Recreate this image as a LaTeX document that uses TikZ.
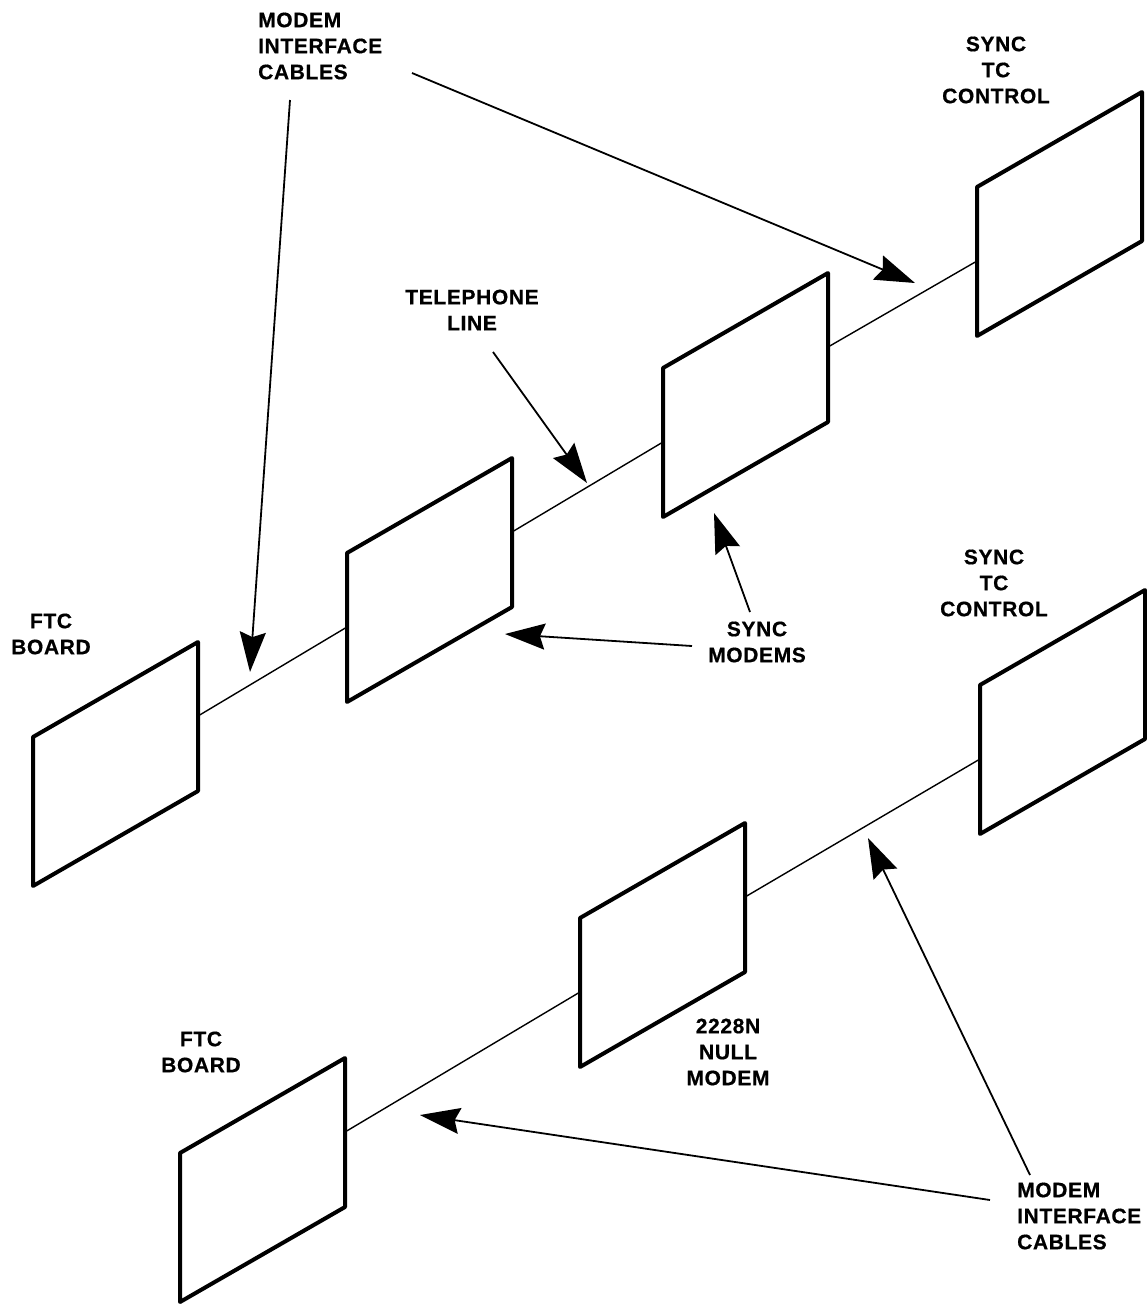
\documentclass[tikz,border=0pt]{standalone}
\usepackage{fontspec}
\setmainfont{Liberation Sans}
\newfontfamily\lblfont[LetterSpace=3, FakeBold=0.6]{Liberation Sans}
\usetikzlibrary{positioning, arrows.meta}

\tikzset{
  pics/board/.style={code={
    \draw[line width=4pt, line join=round] (0,0) -- (165,-95) -- (165,54) -- (0,149) -- cycle;
    \coordinate (-w) at (0,74);
    \coordinate (-e) at (165,-21);
  }},
  cable/.style={line width=1.4pt},
  pointer/.style={line width=1.8pt, -{Stealth[length=40pt, width=26pt, inset=5pt]}},
  lbl/.style={font=\lblfont\bfseries\fontsize{21}{26}\selectfont, inner sep=0pt}
}

\begin{document}
\begin{tikzpicture}[x=1pt, y=-1pt, every node/.style={lbl, align=center}]
    \useasboundingbox (0,0) rectangle (1147,1304);
    % upper link: ftc - modem - telephone line - modem - sync tc
    \pic (ftcA) at (33,737) {board};
    \pic (modA) at (347,553) {board};
    \pic (modB) at (663,368) {board};
    \pic (syncA) at (977,187) {board};
    \draw[cable] (ftcA-e) -- (modA-w);
    \draw[cable] (modA-e) -- (modB-w);
    \draw[cable] (modB-e) -- (syncA-w);
    % lower link: ftc - null modem - sync tc
    \pic (ftcB) at (180,1153) {board};
    \pic (nullB) at (580,918) {board};
    \pic (syncB) at (980,685) {board};
    \draw[cable] (ftcB-e) -- (nullB-w);
    \draw[cable] (nullB-e) -- (syncB-w);

    \node (cablesA) [anchor=west, align=left] at (258,46) {MODEM\\INTERFACE\\CABLES};
    \node (syncTxtA) at (996,70) {SYNC\\TC\\CONTROL};
    \node (phone) at (472,310) {TELEPHONE\\LINE};
    \node (modems) at (757,642) {SYNC\\MODEMS};
    \node (ftcTxtA) at (51,634) {FTC\\BOARD};
    \node (syncTxtB) at (994,583) {SYNC\\TC\\CONTROL};
    \node (nullTxt) at (728,1052) {2228N\\NULL\\MODEM};
    \node (ftcTxtB) at (201,1052) {FTC\\BOARD};
    \node (cablesB) [anchor=west, align=left] at (1017,1216) {MODEM\\INTERFACE\\CABLES};

    % pointer ends
    \coordinate (p1s) at (290,100);   \coordinate (p1t) at (250,672);
    \coordinate (p2s) at (412,73);    \coordinate (p2t) at (915,283);
    \coordinate (p3s) at (493,352);   \coordinate (p3t) at (587,483);
    \coordinate (p4s) at (692,646);   \coordinate (p4t) at (505,634);
    \coordinate (p5s) at (750,612);   \coordinate (p5t) at (714,513);
    \coordinate (p6s) at (990,1200);  \coordinate (p6t) at (420,1115);
    \coordinate (p7s) at (1030,1175); \coordinate (p7t) at (868,838);
    \foreach \i in {1,...,7}
        \draw[pointer] (p\i s) -- (p\i t);
\end{tikzpicture}
\end{document}
